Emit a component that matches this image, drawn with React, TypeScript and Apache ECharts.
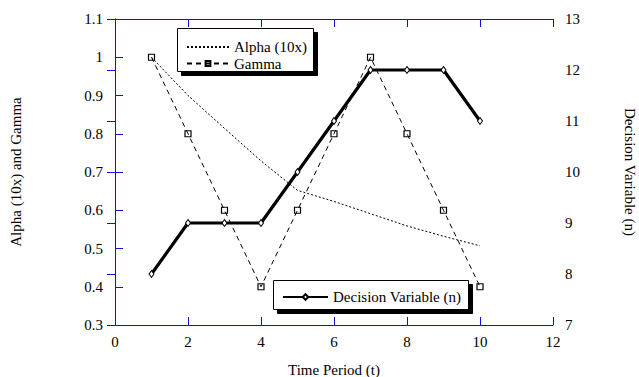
import React, { useEffect, useRef } from "react";
import * as echarts from "echarts";

const timePeriods = [1, 2, 3, 4, 5, 6, 7, 8, 9, 10];
const alpha10x = [1.0, 0.9, 0.814, 0.729, 0.652, 0.623, 0.591, 0.559, 0.532, 0.507];
const gamma = [1.0, 0.8, 0.6, 0.4, 0.6, 0.8, 1.0, 0.8, 0.6, 0.4];
const decisionVariable = [8, 9, 9, 9, 10, 11, 12, 12, 12, 11];

const FONT = "Liberation Serif";
const AXIS_BLUE = "#1010e0";

export default function App() {
  const ref = useRef<HTMLDivElement>(null);

  useEffect(() => {
    if (!ref.current) return;
    const chart = echarts.init(ref.current, undefined, { renderer: "svg" });
    const pairs = (ys: number[]) => timePeriods.map((t, i) => [t, ys[i]]);
    const txt = { fontFamily: FONT, fontSize: 15, color: "#000" };

    const legendBase = {
      orient: "vertical",
      selectedMode: false,
      backgroundColor: "transparent",
      borderWidth: 0,
      textStyle: { ...txt, lineHeight: 16 },
      z: 10,
    };

    const boxWithShadow = (x: number, y: number, w: number, h: number) => [
      {
        type: "rect",
        z: 8,
        shape: { x: x + 4, y: y + 4, width: w, height: h },
        style: { fill: "#000", stroke: "#000", lineWidth: 1 },
      },
      {
        type: "rect",
        z: 9,
        shape: { x, y, width: w, height: h },
        style: { fill: "#fff", stroke: "#000", lineWidth: 1 },
      },
    ];

    chart.setOption({
      animation: false,
      backgroundColor: "#fff",
      grid: { left: 115, right: 86, top: 19, bottom: 52, containLabel: false, outerBoundsMode: "none" },
      graphic: [
        ...boxWithShadow(177.5, 28.5, 136, 43),
        ...boxWithShadow(273.5, 280.5, 195, 29),
      ],
      legend: [
        {
          ...legendBase,
          data: [
            {
              name: "Alpha (10x)",
              itemStyle: { color: "rgba(0,0,0,0)", borderColor: "rgba(0,0,0,0)", borderWidth: 0 },
            },
            { name: "Gamma" },
          ],
          left: 177,
          top: 28,
          padding: [11, 6, 2, 9],
          itemWidth: 42,
          itemHeight: 6,
          itemGap: 0.5,
        },
        {
          ...legendBase,
          data: ["Decision Variable (n)"],
          left: 273,
          top: 280,
          padding: [9, 5, 4, 9],
          itemWidth: 45,
          itemHeight: 7,
        },
      ],
      xAxis: [
        {
          type: "value",
          min: 0,
          max: 12,
          interval: 2,
          position: "bottom",
          name: "Time Period (t)",
          nameLocation: "middle",
          nameGap: 37,
          nameTextStyle: txt,
          axisLine: { show: true, lineStyle: { color: AXIS_BLUE, width: 1 } },
          axisTick: { show: true, inside: true, length: 8, lineStyle: { color: AXIS_BLUE } },
          axisLabel: { ...txt, margin: 9 },
          splitLine: { show: false },
        },
        {
          type: "value",
          min: 0,
          max: 12,
          interval: 2,
          position: "top",
          axisLine: { show: true, lineStyle: { color: AXIS_BLUE, width: 1 } },
          axisTick: { show: true, inside: true, length: 8, lineStyle: { color: AXIS_BLUE } },
          axisLabel: { show: false },
          splitLine: { show: false },
        },
      ],
      yAxis: [
        {
          type: "value",
          min: 0.3,
          max: 1.1,
          interval: 0.1,
          position: "left",
          name: "Alpha (10x) and Gamma",
          nameLocation: "middle",
          nameGap: 92,
          nameRotate: 90,
          nameTextStyle: txt,
          axisLine: { show: true, lineStyle: { color: AXIS_BLUE, width: 1 } },
          axisTick: { show: true, inside: true, length: 8, lineStyle: { color: AXIS_BLUE } },
          axisLabel: {
            ...txt,
            margin: 12,
            formatter: (v: number) => String(parseFloat(v.toFixed(1))),
          },
          splitLine: { show: false },
        },
        {
          type: "value",
          min: 7,
          max: 13,
          interval: 1,
          position: "right",
          name: "Decision Variable (n)",
          nameLocation: "middle",
          nameGap: 69,
          nameRotate: -90,
          nameTextStyle: txt,
          axisLine: { show: true, lineStyle: { color: AXIS_BLUE, width: 1 } },
          axisTick: { show: true, inside: true, length: 8, lineStyle: { color: AXIS_BLUE } },
          axisLabel: { ...txt, margin: 12 },
          splitLine: { show: false },
        },
      ],
      series: [
        {
          name: "Alpha (10x)",
          type: "line",
          xAxisIndex: 0,
          yAxisIndex: 0,
          data: pairs(alpha10x),
          symbol: "none",
          color: "#000",
          lineStyle: { color: "#000", width: 1, type: [2, 2] },
          z: 2,
        },
        {
          name: "Gamma",
          type: "line",
          xAxisIndex: 0,
          yAxisIndex: 0,
          data: pairs(gamma),
          symbol: "rect",
          symbolSize: 6,
          color: "#000",
          itemStyle: { color: "rgba(255,255,255,0)", borderColor: "#000", borderWidth: 1.2 },
          lineStyle: { color: "#000", width: 1, type: [5, 4] },
          z: 3,
        },
        {
          name: "Decision Variable (n)",
          type: "line",
          xAxisIndex: 0,
          yAxisIndex: 1,
          data: pairs(decisionVariable),
          symbol: "diamond",
          symbolSize: [5, 7],
          color: "#000",
          itemStyle: { color: "#fff", borderColor: "#000", borderWidth: 1 },
          lineStyle: { color: "#000", width: 3.2 },
          z: 4,
        },
      ],
    });

    return () => chart.dispose();
  }, []);

  return (
    <div
      ref={ref}
      style={{ position: "absolute", left: 0, top: 0, width: 639, height: 377 }}
    />
  );
}
